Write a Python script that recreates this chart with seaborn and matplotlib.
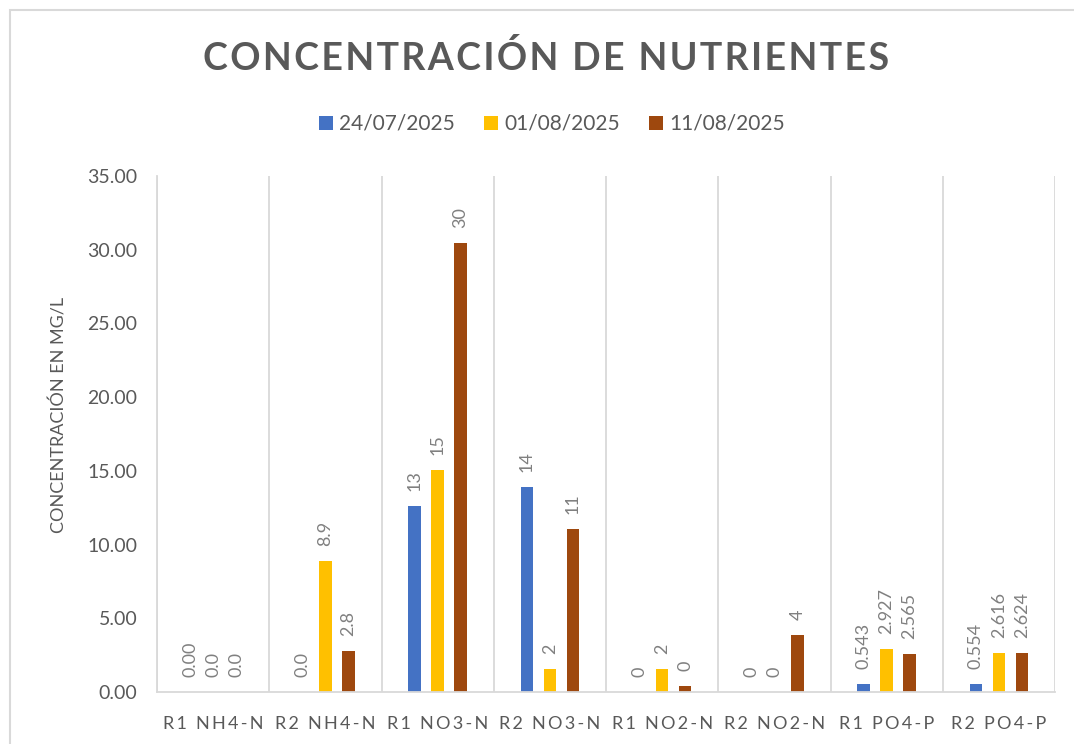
import numpy as np
import pandas as pd
import matplotlib
matplotlib.use("Agg")
import matplotlib.pyplot as plt
import seaborn as sns
from matplotlib.patches import Rectangle, Patch
from matplotlib.ticker import FormatStrFormatter

# ---------------- data ----------------
categories = ["R1 NH4-N", "R2 NH4-N", "R1 NO3-N", "R2 NO3-N",
              "R1 NO2-N", "R2 NO2-N", "R1 PO4-P", "R2 PO4-P"]
dates = ["24/07/2025", "01/08/2025", "11/08/2025"]

values_2407 = [0.0, 0.0, 12.6, 13.9, 0.0, 0.0, 0.543, 0.554]
values_0108 = [0.0, 8.9, 15.05, 1.55, 1.55, 0.0, 2.927, 2.616]
values_1108 = [0.0, 2.75, 30.45, 11.05, 0.4, 3.9, 2.565, 2.624]

labels_2407 = ["0.00", "0.0", "13", "14", "0", "0", "0.543", "0.554"]
labels_0108 = ["0.0", "8.9", "15", "2", "2", "0", "2.927", "2.616"]
labels_1108 = ["0.0", "2.8", "30", "11", "0", "4", "2.565", "2.624"]

colors = ["#4472C4", "#FFC000", "#9E480E"]
title = "CONCENTRACIÓN DE NUTRIENTES"
ylabel = "CONCENTRACIÓN EN MG/L"

# ---------------- build table ----------------
series_vals = [values_2407, values_0108, values_1108]
series_labels = [labels_2407, labels_0108, labels_1108]
rows = []
for d, vals in zip(dates, series_vals):
    for c, v in zip(categories, vals):
        rows.append({"cat": c, "date": d, "val": v})
df = pd.DataFrame(rows)

sns.set_style("white")
plt.rcParams["font.family"] = ["Lato", "DejaVu Sans"]

TXT = "#595959"
GRID = "#d9d9d9"

fig = plt.figure(figsize=(10.74, 7.44), dpi=100)
ax = fig.add_axes([157 / 1074, 1 - 692 / 744, (1055 - 157) / 1074, (692 - 176) / 744])

sns.barplot(data=df, x="cat", y="val", hue="date", order=categories, hue_order=dates,
            palette=colors, width=0.615, gap=0.45, linewidth=0, saturation=1,
            ax=ax, legend=False)

# data labels
for cont, labs in zip(ax.containers, series_labels):
    for bar, lab in zip(cont, labs):
        x = bar.get_x() + bar.get_width() / 2
        y = bar.get_height()
        ax.annotate(lab, (x, y), xytext=(0, 15), textcoords="offset pixels",
                    rotation=90, ha="center", va="bottom", fontsize=13, color="#808080")

ax.set_xlim(-0.5, 7.5)
ax.set_ylim(0, 35)
ax.set_yticks(np.arange(0, 35.1, 5))
ax.yaxis.set_major_formatter(FormatStrFormatter("%.2f"))

def spaced(s, sep="\u2009"):
    return sep.join(list(s))

ax.set_xticks(range(len(categories)))
ax.set_xticklabels([spaced(c) for c in categories], fontsize=13, color=TXT)
ax.set_xticks(np.arange(-0.5, 8, 1), minor=True)
ax.tick_params(axis="x", which="major", length=0, pad=17)
ax.tick_params(axis="x", which="minor", length=7, color=GRID, width=1)
ax.tick_params(axis="y", which="major", length=7, color=GRID, width=1,
               labelsize=14, labelcolor=TXT, pad=7)
ax.grid(axis="x", which="minor", color=GRID, lw=1.3)
ax.grid(axis="y", visible=False)
for s in ["top", "right"]:
    ax.spines[s].set_visible(False)
for s in ["left", "bottom"]:
    ax.spines[s].set_color(GRID)
    ax.spines[s].set_linewidth(1.3)
ax.set_xlabel("")
ax.set_ylabel(ylabel, fontsize=13, color=TXT, va="center")
ax.yaxis.set_label_coords((59 - 157) / 898, (692 - 415) / 516)

# title
fig.text(546 / 1074, 1 - 58 / 744, spaced(title, "\u200a"), ha="center", va="center",
         fontsize=27, fontweight="bold", color=TXT)

# legend
handles = [Patch(facecolor=c, edgecolor="none", label=d) for c, d in zip(colors, dates)]
fig.legend(handles=handles, loc="center", bbox_to_anchor=(552 / 1074, 1 - 124 / 744),
           ncol=3, frameon=False, fontsize=15, labelcolor=TXT,
           handlelength=0.67, handleheight=0.67, handletextpad=0.29, columnspacing=1.4)

# chart border
fig.patches.append(Rectangle((9.5 / 1074, -0.05), 1.1, 1 - 9.5 / 744 + 0.05,
                             transform=fig.transFigure, fill=False,
                             edgecolor=GRID, lw=1.5, zorder=-1))

fig.savefig("out.png", dpi=100, facecolor="white")
